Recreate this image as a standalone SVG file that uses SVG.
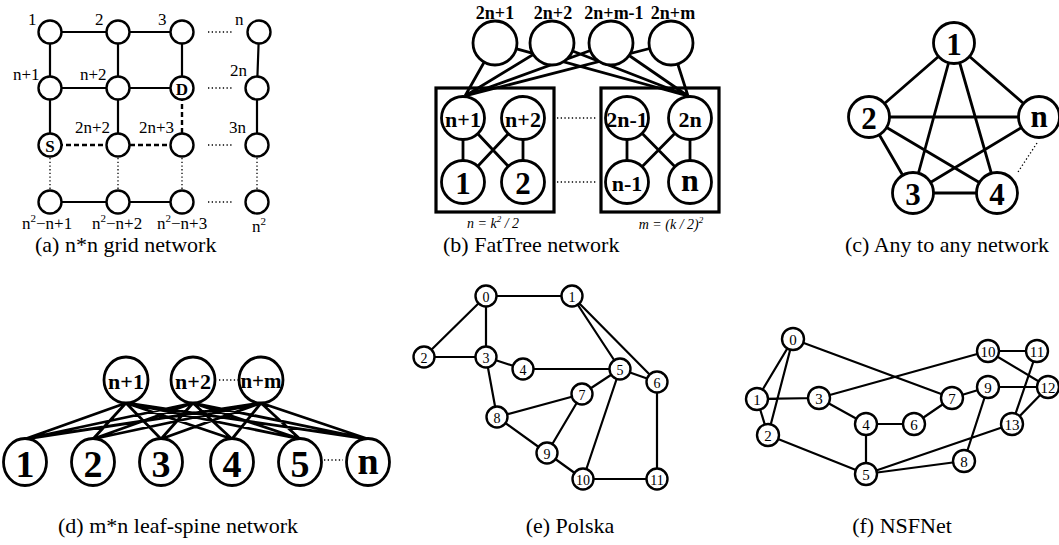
<svg xmlns="http://www.w3.org/2000/svg" width="1059" height="545" viewBox="0 0 1059 545" font-family="'Liberation Serif', serif">
<style>
text{font-family:"Liberation Serif","Times New Roman",serif;fill:#000}
.cap{font-size:22px}
.lbl{font-size:17px}
.b{font-weight:bold}
.mid{text-anchor:middle;dominant-baseline:central}
.e{stroke:#000;stroke-width:2.2;fill:none}
.e2{stroke:#000;stroke-width:2.8;fill:none}
.dash{stroke:#000;stroke-width:2.4;stroke-dasharray:5 3;fill:none}
.dot{stroke:#000;stroke-width:1.3;stroke-dasharray:1.3 2.4;fill:none}
.n{fill:#fff;stroke:#000;stroke-width:2.4}
.nb{fill:#fff;stroke:#000;stroke-width:2.8}
.box{fill:none;stroke:#000;stroke-width:3.2}
.pl{font-size:14px}
.ns{font-size:15px}
</style>

<!-- (a) grid -->
<g id="grid-edges">
<path class="e" d="M50,32H182M50,88H182M50,202H182M50,32V145M118,32V145M182,32V88M259,32L257,88M257,88V145"/>
<path class="dash" d="M50,145H182M182,88V145"/>
<path class="dot" d="M208,32H233M208,88H233M208,145H233M208,202H233M50,158V189M118,158V189M182,158V189M257,158V189"/>
</g>
<g id="grid-nodes">
<g id="g1"><circle class="n" cx="50" cy="32" r="11.5"/><text class="lbl" x="28" y="25">1</text></g>
<g id="g2"><circle class="n" cx="118" cy="32" r="11.5"/><text class="lbl" x="95" y="25">2</text></g>
<g id="g3"><circle class="n" cx="182" cy="32" r="11.5"/><text class="lbl" x="158" y="25">3</text></g>
<g id="gn"><circle class="n" cx="259" cy="32" r="11.5"/><text class="lbl" x="235" y="25">n</text></g>
<g id="gn1"><circle class="n" cx="50" cy="88" r="11.5"/><text class="lbl" x="13" y="80">n+1</text></g>
<g id="gn2"><circle class="n" cx="118" cy="88" r="11.5"/><text class="lbl" x="80" y="80">n+2</text></g>
<g id="gD"><circle class="n" cx="182" cy="88" r="11.5"/><text class="lbl b mid" x="182" y="89">D</text></g>
<g id="g2n"><circle class="n" cx="257" cy="88" r="11.5"/><text class="lbl" x="230" y="76">2n</text></g>
<g id="gS"><circle class="n" cx="50" cy="145" r="11.5"/><text class="lbl b mid" x="50" y="146">S</text></g>
<g id="g2n2"><circle class="n" cx="118" cy="145" r="11.5"/><text class="lbl" x="75" y="133">2n+2</text></g>
<g id="g2n3"><circle class="n" cx="182" cy="145" r="11.5"/><text class="lbl" x="139" y="133">2n+3</text></g>
<g id="g3n"><circle class="n" cx="257" cy="145" r="11.5"/><text class="lbl" x="229" y="133">3n</text></g>
<g id="gr1"><circle class="n" cx="50" cy="202" r="11.5"/><text class="lbl" x="22" y="229">n<tspan font-size="11" dy="-7">2</tspan><tspan dy="7">−n+1</tspan></text></g>
<g id="gr2"><circle class="n" cx="118" cy="202" r="11.5"/><text class="lbl" x="92" y="229">n<tspan font-size="11" dy="-7">2</tspan><tspan dy="7">−n+2</tspan></text></g>
<g id="gr3"><circle class="n" cx="182" cy="202" r="11.5"/><text class="lbl" x="157" y="229">n<tspan font-size="11" dy="-7">2</tspan><tspan dy="7">−n+3</tspan></text></g>
<g id="gr4"><circle class="n" cx="257" cy="202" r="11.5"/><text class="lbl" x="252" y="232">n<tspan font-size="11" dy="-7">2</tspan></text></g>
</g>
<text class="cap" x="35" y="252">(a) n*n grid network</text>

<!-- (b) FatTree -->
<g id="ft-edges">
<path class="e2" d="M495,43L465,96M552,43L465,96M611,43L465,96M671,43L465,96M495,43L688,96M552,43L688,96M611,43L688,96M671,43L688,96"/>
<path class="e2" d="M463,118V182M523,118V182M463,118L523,182M523,118L463,182M627,118V182M690,118V182M627,118L690,182M690,118L627,182"/>
<path class="dot" stroke-width="1.5" d="M557,118H597M557,182H597"/>
</g>
<rect class="box" x="436" y="88" width="118" height="124"/>
<rect class="box" x="601" y="88" width="118" height="124"/>
<g id="ft-nodes">
<g id="c1"><circle class="nb" cx="495" cy="43" r="22"/><text class="b" font-size="18" text-anchor="middle" x="495" y="19">2n+1</text></g>
<g id="c2"><circle class="nb" cx="552" cy="43" r="22"/><text class="b" font-size="18" text-anchor="middle" x="553" y="19">2n+2</text></g>
<g id="c3"><circle class="nb" cx="611" cy="43" r="22"/><text class="b" font-size="18" text-anchor="middle" x="614" y="19">2n+m-1</text></g>
<g id="c4"><circle class="nb" cx="671" cy="43" r="22"/><text class="b" font-size="18" text-anchor="middle" x="673" y="19">2n+m</text></g>
<g id="a1"><circle class="nb" cx="463" cy="118" r="21.5"/><text class="b mid" font-size="22" x="463" y="119">n+1</text></g>
<g id="a2"><circle class="nb" cx="523" cy="118" r="21.5"/><text class="b mid" font-size="22" x="523" y="119">n+2</text></g>
<g id="e1"><circle class="nb" cx="463" cy="182" r="21.5"/><text class="b mid" font-size="31" x="463" y="183">1</text></g>
<g id="e2"><circle class="nb" cx="523" cy="182" r="21.5"/><text class="b mid" font-size="31" x="523" y="183">2</text></g>
<g id="a3"><circle class="nb" cx="627" cy="118" r="21.5"/><text class="b mid" font-size="22" x="627" y="119">2n-1</text></g>
<g id="a4"><circle class="nb" cx="690" cy="118" r="21.5"/><text class="b mid" font-size="22" x="690" y="119">2n</text></g>
<g id="e3"><circle class="nb" cx="627" cy="182" r="21.5"/><text class="b mid" font-size="22" x="627" y="183">n-1</text></g>
<g id="e4"><circle class="nb" cx="690" cy="182" r="21.5"/><text class="b mid" font-size="32" x="690" y="180">n</text></g>
</g>
<text font-size="14" font-style="italic" text-anchor="middle" x="493" y="228">n = k<tspan font-size="9" dy="-6">2</tspan><tspan dy="6"> / 2</tspan></text>
<text font-size="14" font-style="italic" text-anchor="middle" x="671" y="229">m = (k / 2)<tspan font-size="9" dy="-6">2</tspan></text>
<text class="cap" x="443" y="252">(b) FatTree network</text>

<!-- (c) any to any -->
<g id="aa-edges">
<path class="e2" d="M954,43L869,117M954,43L1039,117M954,43L913,193M954,43L997,193M869,117L1039,117M869,117L997,193M869,117L913,193M913,193L1039,117M913,193L997,193"/>
<path class="dot" stroke-width="1.5" d="M1037,143L1018,172"/>
</g>
<g id="aa-nodes">
<g id="k1"><circle class="nb" cx="954" cy="43" r="20.5"/><text class="b mid" font-size="31" x="954" y="44">1</text></g>
<g id="k2"><circle class="nb" cx="869" cy="117" r="20.5"/><text class="b mid" font-size="31" x="869" y="118">2</text></g>
<g id="kn"><circle class="nb" cx="1039" cy="117" r="20.5"/><text class="b mid" font-size="31" x="1039" y="116">n</text></g>
<g id="k3"><circle class="nb" cx="913" cy="193" r="20.5"/><text class="b mid" font-size="31" x="913" y="194">3</text></g>
<g id="k4"><circle class="nb" cx="997" cy="193" r="20.5"/><text class="b mid" font-size="31" x="997" y="194">4</text></g>
</g>
<text class="cap" x="845" y="252">(c) Any to any network</text>

<!-- (d) leaf-spine -->
<g id="ls-edges">
<path class="e2" stroke-width="3" d="M126,403L25,439M126,403L93,439M126,403L161,439M126,403L232,439M126,403L300,439M126,403L368,439M193,403L25,439M193,403L93,439M193,403L161,439M193,403L232,439M193,403L300,439M193,403L368,439M261,403L25,439M261,403L93,439M261,403L161,439M261,403L232,439M261,403L300,439M261,403L368,439"/>
<path class="dot" stroke-width="1.5" d="M219,380H238M324,460H343"/>
</g>
<g id="ls-nodes">
<g id="s1"><ellipse class="nb" cx="126" cy="380" rx="22" ry="23"/><text class="b mid" font-size="22" x="126" y="381">n+1</text></g>
<g id="s2"><ellipse class="nb" cx="193" cy="380" rx="22" ry="23"/><text class="b mid" font-size="22" x="193" y="381">n+2</text></g>
<g id="s3"><ellipse class="nb" cx="261" cy="380" rx="22" ry="23"/><text class="b mid" font-size="21" x="261" y="381">n+m</text></g>
<g id="l1"><ellipse class="nb" cx="25" cy="462" rx="21.5" ry="23.5"/><text class="b mid" font-size="38" x="25" y="464">1</text></g>
<g id="l2"><ellipse class="nb" cx="93" cy="462" rx="21.5" ry="23.5"/><text class="b mid" font-size="38" x="93" y="464">2</text></g>
<g id="l3"><ellipse class="nb" cx="161" cy="462" rx="21.5" ry="23.5"/><text class="b mid" font-size="38" x="161" y="464">3</text></g>
<g id="l4"><ellipse class="nb" cx="232" cy="462" rx="21.5" ry="23.5"/><text class="b mid" font-size="38" x="232" y="464">4</text></g>
<g id="l5"><ellipse class="nb" cx="300" cy="462" rx="21.5" ry="23.5"/><text class="b mid" font-size="38" x="300" y="464">5</text></g>
<g id="l6"><ellipse class="nb" cx="368" cy="462" rx="21.5" ry="23.5"/><text class="b mid" font-size="38" x="368" y="461">n</text></g>
</g>
<text class="cap" x="58" y="533">(d) m*n leaf-spine network</text>

<!-- (e) Polska -->
<g id="pl-edges">
<path class="e" d="M486,296L572,296M486,296L424,357M486,296L486,357M424,357L486,357M486,357L523,369M486,357L497,417M523,369L620,369M572,296L620,369M572,296L657,382M620,369L657,382M620,369L582,394M620,369L583,479M582,394L497,417M582,394L547,453M497,417L547,453M547,453L583,479M583,479L657,479M657,382L657,479"/>
</g>
<g id="pl-nodes">
<g id="p0"><circle class="n" cx="486" cy="296" r="10.5"/><text class="pl mid" x="486" y="297">0</text></g>
<g id="p1"><circle class="n" cx="572" cy="296" r="10.5"/><text class="pl mid" x="572" y="297">1</text></g>
<g id="p2"><circle class="n" cx="424" cy="357" r="10.5"/><text class="pl mid" x="424" y="358">2</text></g>
<g id="p3"><circle class="n" cx="486" cy="357" r="10.5"/><text class="pl mid" x="486" y="358">3</text></g>
<g id="p4"><circle class="n" cx="523" cy="369" r="10.5"/><text class="pl mid" x="523" y="370">4</text></g>
<g id="p5"><circle class="n" cx="620" cy="369" r="10.5"/><text class="pl mid" x="620" y="370">5</text></g>
<g id="p6"><circle class="n" cx="657" cy="382" r="10.5"/><text class="pl mid" x="657" y="383">6</text></g>
<g id="p7"><circle class="n" cx="582" cy="394" r="10.5"/><text class="pl mid" x="582" y="395">7</text></g>
<g id="p8"><circle class="n" cx="497" cy="417" r="10.5"/><text class="pl mid" x="497" y="418">8</text></g>
<g id="p9"><circle class="n" cx="547" cy="453" r="10.5"/><text class="pl mid" x="547" y="454">9</text></g>
<g id="p10"><circle class="n" cx="583" cy="479" r="10.5"/><text class="pl mid" x="583" y="480">10</text></g>
<g id="p11"><circle class="n" cx="657" cy="479" r="10.5"/><text class="pl mid" x="657" y="480">11</text></g>
</g>
<text class="cap" text-anchor="middle" x="570" y="533">(e) Polska</text>

<!-- (f) NSFNet -->
<g id="ns-edges">
<path class="e" d="M793,339L757,399M793,339L768,435M793,339L952,398M757,399L768,435M757,399L819,398M819,398L988,351M819,398L866,424M866,424L914,424M866,424L866,474M914,424L952,398M952,398L988,387M988,387L1048,387M988,387L964,461M988,351L1037,351M988,351L1048,387M1037,351L1012,424M1048,387L1012,424M1012,424L866,474M866,474L964,461M768,435L866,474"/>
</g>
<g id="ns-nodes">
<g id="f0"><circle class="n" cx="793" cy="339" r="11"/><text class="ns mid" x="793" y="340">0</text></g>
<g id="f1"><circle class="n" cx="757" cy="399" r="11"/><text class="ns mid" x="757" y="400">1</text></g>
<g id="f2"><circle class="n" cx="768" cy="435" r="11"/><text class="ns mid" x="768" y="436">2</text></g>
<g id="f3"><circle class="n" cx="819" cy="398" r="11"/><text class="ns mid" x="819" y="399">3</text></g>
<g id="f4"><circle class="n" cx="866" cy="424" r="11"/><text class="ns mid" x="866" y="425">4</text></g>
<g id="f5"><circle class="n" cx="866" cy="474" r="11"/><text class="ns mid" x="866" y="475">5</text></g>
<g id="f6"><circle class="n" cx="914" cy="424" r="11"/><text class="ns mid" x="914" y="425">6</text></g>
<g id="f7"><circle class="n" cx="952" cy="398" r="11"/><text class="ns mid" x="952" y="399">7</text></g>
<g id="f8"><circle class="n" cx="964" cy="461" r="11"/><text class="ns mid" x="964" y="462">8</text></g>
<g id="f9"><circle class="n" cx="988" cy="387" r="11"/><text class="ns mid" x="988" y="388">9</text></g>
<g id="f10"><circle class="n" cx="988" cy="351" r="11"/><text class="ns mid" x="988" y="352">10</text></g>
<g id="f11"><circle class="n" cx="1037" cy="351" r="11"/><text class="ns mid" x="1037" y="352">11</text></g>
<g id="f12"><circle class="n" cx="1048" cy="387" r="11"/><text class="ns mid" x="1048" y="388">12</text></g>
<g id="f13"><circle class="n" cx="1012" cy="424" r="11"/><text class="ns mid" x="1012" y="425">13</text></g>
</g>
<text class="cap" text-anchor="middle" x="902" y="533">(f) NSFNet</text>
</svg>
